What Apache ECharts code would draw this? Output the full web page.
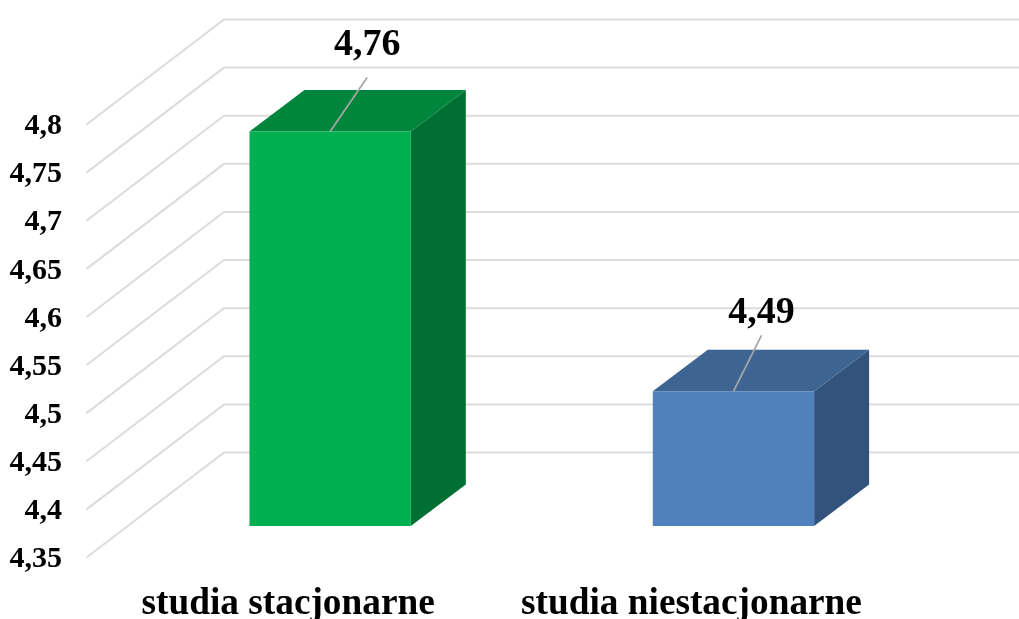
<!DOCTYPE html>
<html>
<head>
<meta charset="utf-8">
<style>html,body{margin:0;padding:0;background:#fff}#c{width:1019px;height:619px}</style>
<script src="https://cdn.jsdelivr.net/npm/echarts@6/dist/echarts.min.js"></script>
</head>
<body>
<div id="c"></div>
<script>
var categories = ['studia stacjonarne', 'studia niestacjonarne'];
var values = [4.76, 4.49];
var tickValues = [4.35, 4.4, 4.45, 4.5, 4.55, 4.6, 4.65, 4.7, 4.75, 4.8];
var frontColors = ['#00b050', '#4f81bd'];
var topColors = ['#00853c', '#3e6491'];
var sideColors = ['#006f32', '#32547c'];
var labelOffsets = [[37, -86], [28, -78]];
var leaderOffsets = [[37, -54], [28, -56]];

var FONT = '"Liberation Serif","Times New Roman",serif';
var chart = echarts.init(document.getElementById('c'), null, {renderer: 'canvas'});
function comma(v) { return String(+(+v).toFixed(2)).replace('.', ','); }

function renderWall(params, api) {
  var v = api.value(0);
  var p = api.coord([0, v]);
  var x0 = params.coordSys.x;
  var y = p[1];
  var bx = x0 + 137.5, by = y - 105;
  return {
    type: 'polyline',
    silent: true,
    shape: {points: [[x0, y], [bx, by], [1019, by]]},
    style: {stroke: '#dcdcdc', lineWidth: 2, fill: null}
  };
}

function renderBar(params, api) {
  var i = params.dataIndex;
  var cat = api.value(0), v = api.value(1);
  var band = api.size([1, 0])[0];
  var w = band * 0.4;
  var c = api.coord([cat, v]);
  var b = api.coord([cat, tickValues[0]]);
  var dx = 42, dy = -31.5, deepX = 55, deepY = -41.5;
  var l = c[0] + dx - w / 2, r = l + w, t = c[1] + dy, bot = b[1] + dy;
  var cx = (l + r) / 2;
  var off = labelOffsets[i], lead = leaderOffsets[i];
  return {
    type: 'group',
    children: [
      {type: 'polygon', shape: {points: [[r, t], [r + deepX, t + deepY], [r + deepX, bot + deepY], [r, bot]]}, style: {fill: sideColors[i]}},
      {type: 'polygon', shape: {points: [[l, t], [l + deepX, t + deepY], [r + deepX, t + deepY], [r, t]]}, style: {fill: topColors[i]}},
      {type: 'rect', shape: {x: l, y: t, width: w, height: bot - t}, style: {fill: frontColors[i]}},
      {type: 'line', shape: {x1: cx, y1: t, x2: cx + lead[0], y2: t + lead[1]}, style: {stroke: '#a6a6a6', lineWidth: 1.75}},
      {type: 'text', x: cx + off[0], y: t + off[1], style: {text: comma(v), font: 'bold 38px ' + FONT, fill: '#000', align: 'center', verticalAlign: 'middle'}}
    ]
  };
}

chart.setOption({
  animation: false,
  backgroundColor: '#fff',
  grid: {left: 86.5, top: 124.5, width: 806.6, bottom: 61.5, containLabel: false, outerBoundsMode: 'none'},
  xAxis: {
    type: 'category', data: categories,
    axisLine: {show: false}, axisTick: {show: false}, splitLine: {show: false},
    axisLabel: {color: '#000', fontFamily: FONT, fontWeight: 'bold', fontSize: 37.3, margin: 28, interval: 0}
  },
  yAxis: {
    type: 'value', min: 4.35, max: 4.8, interval: 0.05,
    axisLine: {show: false}, axisTick: {show: false}, splitLine: {show: false},
    axisLabel: {color: '#000', fontFamily: FONT, fontWeight: 'bold', fontSize: 30, margin: 24.5, verticalAlign: 'top', lineHeight: 4, formatter: comma}
  },
  series: [
    {type: 'custom', name: 'walls', renderItem: renderWall, data: tickValues.map(function (t) { return [t]; }), encode: {y: 0}, clip: false, silent: true, z: 1},
    {type: 'custom', name: 'bars', renderItem: renderBar, data: values.map(function (v, i) { return [i, v]; }), encode: {x: 0, y: 1}, clip: false, silent: true, z: 2}
  ]
});
</script>
</body>
</html>
